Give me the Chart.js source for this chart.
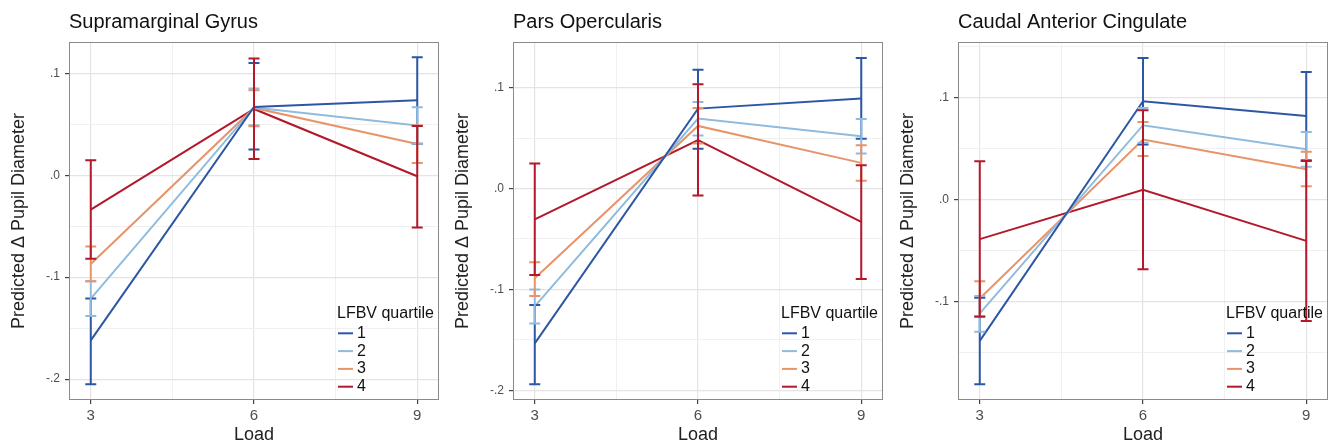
<!DOCTYPE html>
<html>
<head>
<meta charset="utf-8">
<script src="https://cdn.jsdelivr.net/npm/chart.js@4.4.0/dist/chart.umd.min.js"></script>
<style>
html, body { margin: 0; padding: 0; background: #fff; overflow: hidden; }
.panel { position: absolute; top: 0; }
</style>
</head>
<body>
<canvas id="c1" class="panel" width="443" height="444" style="left:0px"></canvas>
<canvas id="c2" class="panel" width="443" height="444" style="left:444px"></canvas>
<canvas id="c3" class="panel" width="441" height="444" style="left:889px"></canvas>
<script>
var loads = [3, 6, 9];
var quartiles = ['1', '2', '3', '4'];
var quartileColors = ['#2d57a5', '#8fbbdf', '#e8946a', '#b3182b'];
var yTickValues = [-0.2, -0.1, 0, 0.1];
var yTickLabels = ['-.2', '-.1', '.0', '.1'];
var titles = ['Supramarginal Gyrus', 'Pars Opercularis', 'Caudal Anterior Cingulate'];

// Supramarginal Gyrus, one row per quartile, columns = load 3/6/9
var smgMean  = [[-0.162, 0.067, 0.0735], [-0.121, 0.0665, 0.0487], [-0.087, 0.066, 0.0307], [-0.0337, 0.065, -0.001]];
var smgLower = [[-0.205, 0.0252, 0.031], [-0.138, 0.049, 0.031], [-0.104, 0.048, 0.0121], [-0.082, 0.016, -0.0513]];
var smgUpper = [[-0.121, 0.110, 0.1157], [-0.104, 0.085, 0.0667], [-0.070, 0.0833, 0.049], [0.0147, 0.1144, 0.0484]];

// Pars Opercularis
var popMean  = [[-0.1535, 0.0792, 0.0891], [-0.1168, 0.0693, 0.0518], [-0.089, 0.062, 0.0254], [-0.0305, 0.0479, -0.033]];
var popLower = [[-0.194, 0.0393, 0.0492], [-0.1337, 0.0525, 0.0347], [-0.1066, 0.0445, 0.0076], [-0.0858, -0.0069, -0.0898]];
var popUpper = [[-0.1155, 0.1178, 0.1294], [-0.100, 0.0858, 0.069], [-0.073, 0.0799, 0.0429], [0.0248, 0.1033, 0.0231]];

// Caudal Anterior Cingulate
var cacMean  = [[-0.1385, 0.0962, 0.0819], [-0.1116, 0.0728, 0.0493], [-0.097, 0.0587, 0.0297], [-0.0388, 0.0096, -0.0405]];
var cacLower = [[-0.181, 0.0538, 0.0385], [-0.1295, 0.0555, 0.032], [-0.1142, 0.0427, 0.013], [-0.1148, -0.0682, -0.119]];
var cacUpper = [[-0.0962, 0.1387, 0.125], [-0.0945, 0.0897, 0.0662], [-0.080, 0.076, 0.0467], [0.0375, 0.0874, 0.0378]];

var yMin = [-0.2205, -0.2096, -0.1964];
var yMax = [0.1307, 0.1452, 0.1543];

var FONT = '"Liberation Sans", Arial, sans-serif';

function isMajorY(v) {
  for (var i = 0; i < yTickValues.length; i++) {
    if (Math.abs(v - yTickValues[i]) < 1e-9) return i;
  }
  return -1;
}

var errorBars = {
  id: 'errorBars',
  afterDatasetsDraw: function(chart, args, opts) {
    var ctx = chart.ctx, xs = chart.scales.x, ys = chart.scales.y;
    ctx.save();
    ctx.lineWidth = 2;
    chart.data.datasets.forEach(function(ds, i) {
      ctx.strokeStyle = ds.borderColor;
      for (var j = 0; j < loads.length; j++) {
        var x = xs.getPixelForValue(loads[j]);
        var y1 = ys.getPixelForValue(opts.lower[i][j]);
        var y2 = ys.getPixelForValue(opts.upper[i][j]);
        ctx.beginPath();
        ctx.moveTo(x, y1); ctx.lineTo(x, y2);
        ctx.moveTo(x - 5.5, y1); ctx.lineTo(x + 5.5, y1);
        ctx.moveTo(x - 5.5, y2); ctx.lineTo(x + 5.5, y2);
        ctx.stroke();
      }
    });
    ctx.restore();
  }
};

var panelFrame = {
  id: 'panelFrame',
  afterDraw: function(chart) {
    var ctx = chart.ctx, a = chart.chartArea;
    ctx.save();
    ctx.strokeStyle = '#8a8a8a';
    ctx.lineWidth = 1;
    ctx.strokeRect(Math.round(a.left) + 0.5, Math.round(a.top) + 0.5,
                   Math.round(a.right - a.left) - 1, Math.round(a.bottom - a.top) - 1);
    // legend inside the panel
    var x0 = a.right - 102;
    ctx.font = '16px ' + FONT;
    ctx.fillStyle = '#111';
    ctx.textBaseline = 'middle';
    ctx.textAlign = 'left';
    ctx.fillText('LFBV quartile', x0, a.bottom - 86);
    chart.data.datasets.forEach(function(ds, i) {
      var y = a.bottom - 66.7 + i * 17.8;
      ctx.strokeStyle = ds.borderColor;
      ctx.lineWidth = 2;
      ctx.beginPath();
      ctx.moveTo(a.right - 101, y);
      ctx.lineTo(a.right - 86, y);
      ctx.stroke();
      ctx.fillText(ds.label, a.right - 82, y);
    });
    ctx.restore();
  }
};

function makePanel(id, k, means, lower, upper) {
  var datasets = quartiles.map(function(q, i) {
    return {
      label: q,
      data: loads.map(function(l, j) { return { x: l, y: means[i][j] }; }),
      borderColor: quartileColors[i],
      backgroundColor: quartileColors[i],
      borderWidth: 2,
      pointRadius: 0,
      tension: 0
    };
  });
  new Chart(document.getElementById(id), {
    type: 'line',
    data: { datasets: datasets },
    plugins: [errorBars, panelFrame],
    options: {
      responsive: false,
      animation: false,
      layout: { padding: { left: 0, right: k === 2 ? 2 : 4, top: 0, bottom: 0 } },
      plugins: {
        legend: { display: false },
        tooltip: { enabled: false },
        title: {
          display: true,
          text: titles[k],
          align: 'start',
          fullSize: false,
          color: '#111',
          font: { family: FONT, size: 20, weight: 'normal', lineHeight: 1.2 },
          padding: { top: 10.7, bottom: 7.3 }
        },
        errorBars: { lower: lower, upper: upper }
      },
      scales: {
        x: {
          type: 'linear',
          min: 2.6,
          max: 9.4,
          afterBuildTicks: function(scale) {
            scale.ticks = [3, 4.5, 6, 7.5, 9].map(function(v) { return { value: v }; });
          },
          afterFit: function(scale) { scale.height = 44; },
          ticks: {
            autoSkip: false,
            maxRotation: 0,
            padding: 3,
            color: '#4d4d4d',
            font: { family: FONT, size: 15 },
            callback: function(v) { return loads.indexOf(v) >= 0 ? String(v) : ''; }
          },
          grid: {
            color: function(c) { return loads.indexOf(c.tick.value) >= 0 ? '#e4e4e4' : '#f0f0f0'; },
            lineWidth: function(c) { return loads.indexOf(c.tick.value) >= 0 ? 1.2 : 1; },
            tickColor: function(c) { return loads.indexOf(c.tick.value) >= 0 ? '#444' : 'rgba(0,0,0,0)'; },
            tickLength: 4,
            drawTicks: true
          },
          border: { display: false },
          title: {
            display: true,
            text: 'Load',
            color: '#222',
            font: { family: FONT, size: 18, lineHeight: 1 },
            padding: { top: 0, bottom: 0 }
          }
        },
        y: {
          type: 'linear',
          min: yMin[k],
          max: yMax[k],
          afterBuildTicks: function(scale) {
            var t = [];
            for (var n = -8; n <= 8; n++) {
              var v = Math.round(n * 5) / 100;
              if (v >= scale.min && v <= scale.max) t.push({ value: v });
            }
            scale.ticks = t;
          },
          afterFit: function(scale) { scale.width = 69; },
          ticks: {
            autoSkip: false,
            padding: 5,
            color: '#4d4d4d',
            font: { family: FONT, size: 12 },
            callback: function(v) { var i = isMajorY(v); return i >= 0 ? yTickLabels[i] : ''; }
          },
          grid: {
            color: function(c) { return isMajorY(c.tick.value) >= 0 ? '#e4e4e4' : '#f0f0f0'; },
            lineWidth: function(c) { return isMajorY(c.tick.value) >= 0 ? 1.2 : 1; },
            tickColor: function(c) { return isMajorY(c.tick.value) >= 0 ? '#444' : 'rgba(0,0,0,0)'; },
            tickLength: 4,
            drawTicks: true
          },
          border: { display: false },
          title: {
            display: true,
            text: 'Predicted \u0394 Pupil Diameter',
            color: '#222',
            font: { family: FONT, size: 18, lineHeight: 1 },
            padding: { top: 10, bottom: 0 }
          }
        }
      }
    }
  });
}

makePanel('c1', 0, smgMean, smgLower, smgUpper);
makePanel('c2', 1, popMean, popLower, popUpper);
makePanel('c3', 2, cacMean, cacLower, cacUpper);
</script>
</body>
</html>
